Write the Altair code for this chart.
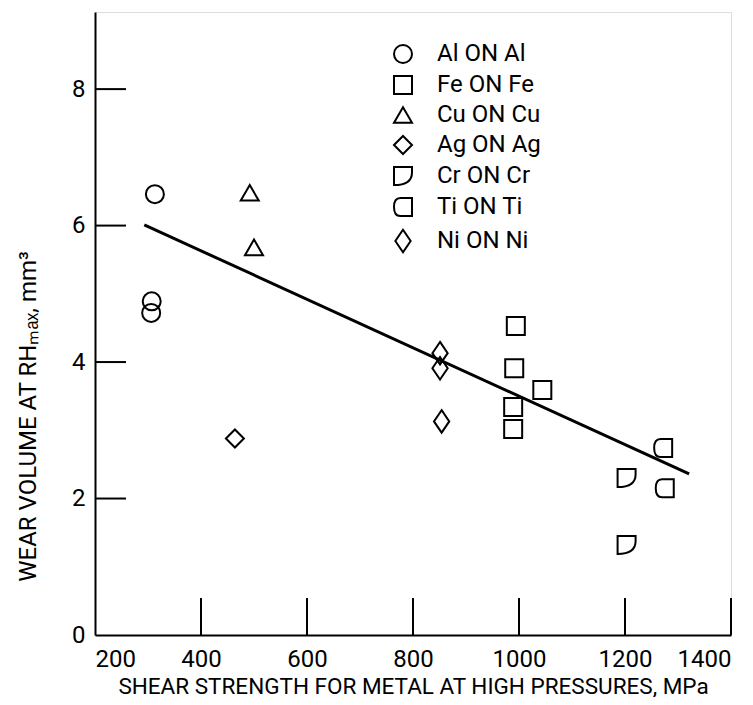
import altair as alt
import pandas as pd

FONT = "Roboto, Liberation Sans, sans-serif"

# ---- data ----
pairs = ["Al ON Al", "Fe ON Fe", "Cu ON Cu", "Ag ON Ag", "Cr ON Cr", "Ti ON Ti", "Ni ON Ni"]

al_x = [313, 307, 306]
al_y = [6.46, 4.89, 4.72]
fe_x = [994, 991, 1044, 989, 989]
fe_y = [4.53, 3.91, 3.59, 3.34, 3.02]
cu_x = [492, 500]
cu_y = [6.48, 5.68]
ag_x = [464]
ag_y = [2.88]
cr_x = [1203, 1203]
cr_y = [2.30, 1.32]
ti_x = [1272, 1275]
ti_y = [2.74, 2.15]
ni_x = [851, 851, 854]
ni_y = [4.13, 3.91, 3.13]

fit_x = [293, 1321]
fit_y = [6.01, 2.36]

x_ticks = [400, 600, 800, 1000, 1200, 1400]
x_labels = [200, 400, 600, 800, 1000, 1200, 1400]
y_ticks = [2, 4, 6, 8]
y_labels = [0, 2, 4, 6, 8]

CR_PATH = "M-1,-1 L1,-1 L1,-0.4 Q1,1 -1,1 Z"
TI_PATH = "M1,-1 L-0.3,-1 Q-1,-1 -1,0 Q-1,1 -0.3,1 L1,1 Z"
NI_PATH = "M0,-1.25 L0.85,0 L0,1.25 L-0.85,0 Z"
shapes = ["circle", "square", "triangle-up", "diamond", CR_PATH, TI_PATH, NI_PATH]

series = [al_x, fe_x, cu_x, ag_x, cr_x, ti_x, ni_x]
series_y = [al_y, fe_y, cu_y, ag_y, cr_y, ti_y, ni_y]
rows = []
for name, xs_, ys_ in zip(pairs, series, series_y):
    for a, b in zip(xs_, ys_):
        rows.append({"pair": name, "x": a, "y": b})
df = pd.DataFrame(rows)
fit_df = pd.DataFrame({"x": fit_x, "y": fit_y})
xt_df = pd.DataFrame({"x": x_ticks})
yt_df = pd.DataFrame({"y": y_ticks})

W, H = 636, 623
xs = alt.Scale(domain=[200, 1400], nice=False, zero=False)
ys = alt.Scale(domain=[0, 9.13], nice=False, zero=False)

x_axis = alt.Axis(
    values=x_labels, format="d", ticks=False, grid=False, domainColor="black", domainWidth=2,
    labelFont=FONT, labelFontSize=24, labelColor="black", labelPadding=12,
    title="SHEAR STRENGTH FOR METAL AT HIGH PRESSURES, MPa",
    titleFont=FONT, titleFontSize=22.5, titleFontWeight="normal", titleColor="black",
    titlePadding=4,
)
y_axis = alt.Axis(
    values=y_labels, format="d", ticks=False, grid=False, domainColor="black", domainWidth=2,
    labelFont=FONT, labelFontSize=24, labelColor="black", labelPadding=10,
    title="WEAR VOLUME AT RHₘₐₓ, mm³",
    titleFont=FONT, titleFontSize=24, titleFontWeight="normal", titleColor="black",
    titleX=-67, titleY=404, titleAlign="center", titleBaseline="middle", titleAngle=-90,
)

points = alt.Chart(df).mark_point(
    filled=False, color="black", strokeWidth=2, size=324, opacity=1
).encode(
    x=alt.X("x:Q", scale=xs, axis=x_axis),
    y=alt.Y("y:Q", scale=ys, axis=y_axis),
    shape=alt.Shape(
        "pair:N",
        scale=alt.Scale(domain=pairs, range=shapes),
        legend=alt.Legend(
            title=None, orient="none", legendX=296, legendY=30,
            labelFont=FONT, labelFontSize=24, labelColor="black",
            symbolSize=324, symbolStrokeWidth=2, symbolStrokeColor="black",
            symbolFillColor="transparent", symbolOpacity=1,
            rowPadding=5, labelOffset=22, padding=0,
        ),
    ),
)

fit = alt.Chart(fit_df).mark_line(color="black", strokeWidth=3).encode(
    x=alt.X("x:Q", scale=xs), y=alt.Y("y:Q", scale=ys)
)

xticks = alt.Chart(xt_df).mark_rule(color="black", strokeWidth=2).encode(
    x=alt.X("x:Q", scale=xs), y=alt.value(H), y2=alt.value(H - 37)
)
yticks = alt.Chart(yt_df).mark_rule(color="black", strokeWidth=2).encode(
    y=alt.Y("y:Q", scale=ys), x=alt.value(0), x2=alt.value(31)
)

chart = alt.layer(xticks, yticks, fit, points).properties(
    width=W, height=H,
    autosize=alt.AutoSizeParams(type="none"),
    padding={"left": 87, "top": 4, "right": 14, "bottom": 62},
).configure_view(stroke=None).configure(background="white")

chart.save("out.html", embed_options={"renderer": "svg", "actions": False})
